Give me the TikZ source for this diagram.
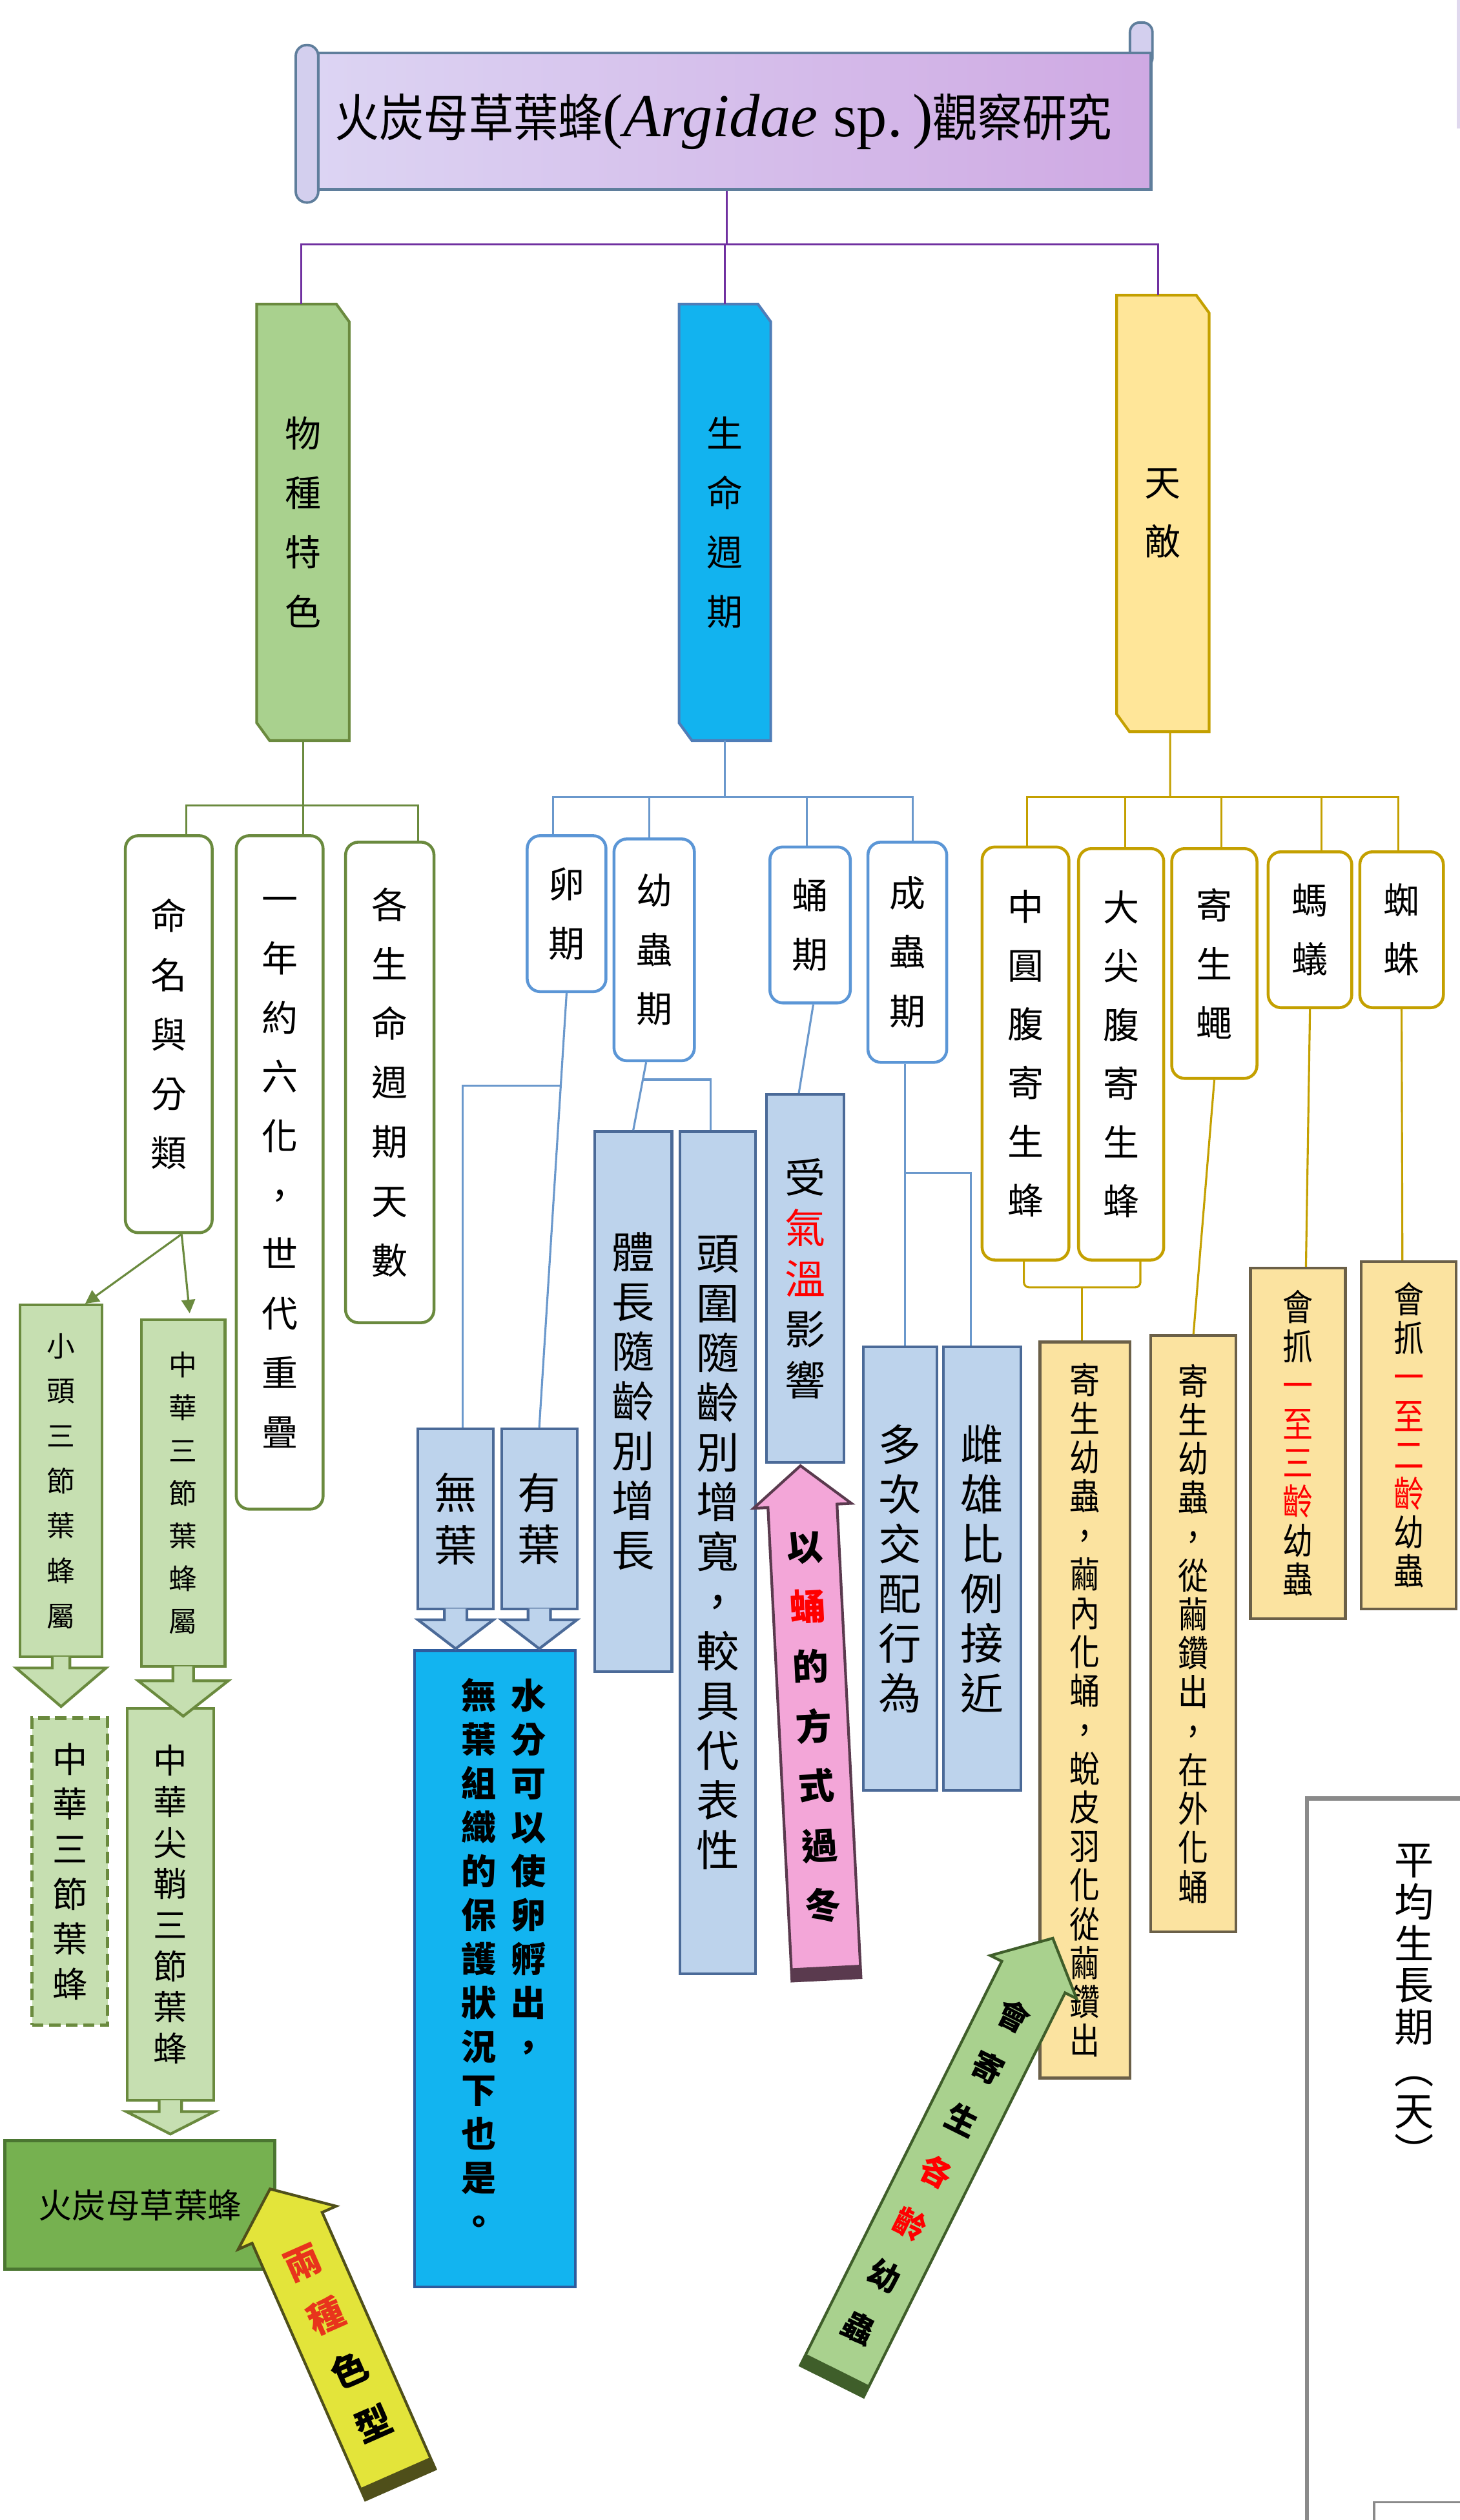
\documentclass[tikz,border=0pt]{standalone}
\usepackage{fontspec}
\setmainfont{Noto Sans CJK TC}
\newfontfamily\cjkc{Noto Sans CJK TC}[FakeStretch=0.84]
\newfontfamily\cjkt{Noto Sans CJK TC}[FakeStretch=0.88]
\newfontfamily\lat{Liberation Serif}
\usetikzlibrary{calc,backgrounds,arrows.meta}
\newcommand\fs[2]{\fontsize{#1pt}{#2pt}\selectfont}
\newcommand\rd[1]{\textcolor{red}{#1}}
\def\UL{0.025cm}
\definecolor{purp}{HTML}{7030A0}
\definecolor{gfill}{HTML}{A9D18E}
\definecolor{gdark}{HTML}{6A8A3E}
\definecolor{bfill}{HTML}{12B3EF}
\definecolor{bdark}{HTML}{4F7DB8}
\definecolor{yfill}{HTML}{FFE699}
\definecolor{ydark}{HTML}{C4A000}
\definecolor{blc}{HTML}{6A98CC}
\definecolor{bl2d}{HTML}{5B96D6}
\definecolor{l3b}{HTML}{BDD3EC}
\definecolor{l3bd}{HTML}{4B6A98}
\definecolor{l3y}{HTML}{FBE3A0}
\definecolor{l3yd}{HTML}{6B6048}
\definecolor{garf}{HTML}{C6DFB1}
\definecolor{hmf}{HTML}{76B150}
\definecolor{hmd}{HTML}{4B7631}
\definecolor{bigb}{HTML}{12B4F0}
\definecolor{bigbd}{HTML}{2E5C9E}
\definecolor{pinkf}{HTML}{F3A6D8}
\definecolor{pinkd}{HTML}{5A3A4E}
\definecolor{yarf}{HTML}{E3E43A}
\definecolor{yard}{HTML}{4F4F1A}
\definecolor{gtd}{HTML}{3F5E2A}
\definecolor{oranger}{HTML}{E8341C}
\definecolor{titL}{HTML}{DCD4F3}
\definecolor{titR}{HTML}{CFA9E3}
\definecolor{scrollb}{HTML}{5F7E9C}
\definecolor{rollf}{HTML}{D3CFEE}
\definecolor{graybox}{HTML}{8A8A8A}
\definecolor{lav}{HTML}{E0D8EE}
\tikzset{
  base/.style={inner sep=0pt, align=center},
  sz/.style 2 args={minimum width={#1*\UL}, minimum height={#2*\UL}},
  pline/.style={draw=purp, line width=0.9pt},
  gline/.style={draw=gdark, line width=0.9pt},
  bline/.style={draw=blc, line width=0.9pt},
  yline/.style={draw=ydark, line width=0.9pt},
  gl2/.style={base, draw=gdark, line width=1.3pt, fill=white, rounded corners=0.2cm, font=\fs{16}{26.2}},
  bl2/.style={base, draw=bl2d, line width=1.3pt, fill=white, rounded corners=0.2cm, font=\fs{16}{26.2}},
  yl2/.style={base, draw=ydark, line width=1.3pt, fill=white, rounded corners=0.2cm, font=\fs{16}{26}},
  bl3/.style={base, draw=l3bd, line width=1.2pt, fill=l3b, font=\fs{19}{22}},
  yl3/.style={base, draw=l3yd, line width=1.2pt, fill=l3y, font=\cjkc\fs{16}{17.2}},
  gar/.style={base, draw=gdark, line width=1.2pt, fill=garf},
  garhead/.style={fill=garf, draw=gdark, line width=1.2pt},
  blhead/.style={fill=l3b, draw=l3bd, line width=1.2pt},
}
\newcommand\chambox[8]{%
  \node[base, minimum width={#4*\UL}, minimum height={#5*\UL}, font=#7] (#1) at (#2,#3) {#8};
  \begin{pgfonlayer}{background}
  \filldraw[#6] (#1.north west) -- ($(#1.north east)+(-8,0)$) -- ($(#1.north east)+(0,11)$) -- (#1.south east) -- ($(#1.south west)+(8,0)$) -- ($(#1.south west)+(0,-11)$) -- cycle;
  \end{pgfonlayer}}
\newcommand\darrow[6]{%
  \filldraw[#6] ($(#1.south)+(-#2,-1)$) -- ($(#1.south)+(-#2,#4)$) -- ($(#1.south)+(-#3,#4)$) -- ($(#1.south)+(0,#5)$) -- ($(#1.south)+(#3,#4)$) -- ($(#1.south)+(#2,#4)$) -- ($(#1.south)+(#2,-1)$);}
\begin{document}
\begin{tikzpicture}[x=0.025cm, y=-0.025cm]
\useasboundingbox (0,0) rectangle (908,1568);
\begin{pgfonlayer}{background}
\fill[white] (0,0) rectangle (908,1568);
\end{pgfonlayer}

% ---------- title scroll ----------
\filldraw[draw=scrollb, line width=1.1pt, fill=rollf, rounded corners=0.15cm] (703,14) rectangle (717,42);
\node[base, sz={518}{85}, draw=scrollb, line width=1.3pt, left color=titL, right color=titR] (title) at (457,75.5)
  {{\cjkt\fs{22.5}{26}火炭母草葉蜂}{\lat\fs{27}{30}(\textit{Argidae} sp.\,)}{\cjkt\fs{22.5}{26}觀察研究}\hspace*{0.35cm}};
\filldraw[draw=scrollb, line width=1.1pt, fill=rollf, rounded corners=0.17cm] (184,28) rectangle (198,126);

% ---------- level 1 ----------
\chambox{gL1}{188.5}{325}{57}{271}{fill=gfill, draw=gdark, line width=1.2pt}{\fs{16}{26.3}}{物\\種\\特\\色}
\chambox{bL1}{451}{325}{56.5}{271}{fill=bfill, draw=bdark, line width=1.2pt}{\fs{16}{26.3}}{生\\命\\週\\期}
\chambox{yL1}{723.5}{319.5}{57}{271}{fill=yfill, draw=ydark, line width=1.2pt}{\fs{16}{26}}{天\\敵}

\coordinate (pbus) at (452,152);
\draw[pline] ($(title.south)+(-5,0)$) -- (pbus);
\draw[pline] (pbus) -| ($(gL1.north)+(-1,0)$);
\draw[pline] (pbus) -| (bL1.north);
\draw[pline] (pbus) -| ($(yL1.north)+(-3,0)$);

% ---------- level 2 ----------
\node[gl2, sz={54}{247}] (nameCls) at (105,643.5) {命\\名\\與\\分\\類};
\node[gl2, sz={54}{419}] (gen) at (174,729.5) {一\\年\\約\\六\\化\\，\\世\\代\\重\\疊};
\node[gl2, sz={55}{299}] (days) at (242.5,673.5) {各\\生\\命\\週\\期\\天\\數};
\node[bl2, sz={49}{97}] (egg) at (352.5,568.5) {卵\\期};
\node[bl2, sz={50}{138}] (larva) at (407,591) {幼\\蟲\\期};
\node[bl2, sz={50}{97}] (pupa) at (504,575.5) {蛹\\期};
\node[bl2, sz={49}{137}] (adult) at (564.5,592.5) {成\\蟲\\期};
\node[yl2, sz={54}{257}] (wasp1) at (638,655.5) {中\\圓\\腹\\寄\\生\\蜂};
\node[yl2, sz={53}{256}] (wasp2) at (697.5,656) {大\\尖\\腹\\寄\\生\\蜂};
\node[yl2, sz={53}{143}] (fly) at (755.5,599.5) {寄\\生\\蠅};
\node[yl2, sz={52}{97}] (ant) at (815,578.5) {螞\\蟻};
\node[yl2, sz={52}{97}] (spider) at (872,578.5) {蜘\\蛛};

\coordinate (gbus) at (188.5,501);
\draw[gline] (gL1.south) -- (gbus);
\draw[gline] (gbus) -| ($(nameCls.north)+(11,0)$);
\draw[gline] (gbus) -- ($(gen.north)+(14.5,0)$);
\draw[gline] (gbus) -| ($(days.north)+(17.5,0)$);

\coordinate (bbus) at (451,496);
\draw[bline] (bL1.south) -- (bbus);
\draw[bline] (bbus) -| ($(egg.north)+(-8.5,0)$);
\draw[bline] (bbus) -| ($(larva.north)+(-3,0)$);
\draw[bline] (bbus) -| ($(pupa.north)+(-2,0)$);
\draw[bline] (bbus) -| ($(adult.north)+(3.5,0)$);

\coordinate (ybus) at (728,496);
\draw[yline] ($(yL1.south)+(4.5,0)$) -- (ybus);
\draw[yline] (ybus) -| ($(wasp1.north)+(1,0)$);
\draw[yline] (ybus) -| ($(wasp2.north)+(2.5,0)$);
\draw[yline] (ybus) -| ($(fly.north)+(4.5,0)$);
\draw[yline] (ybus) -| ($(ant.north)+(7,0)$);
\draw[yline] (ybus) -| ($(spider.north)+(-2,0)$);

% ---------- green branch level 3 ----------
\node[base, sz={168}{80}, fill=hmf, draw=hmd, line width=1.3pt, font=\fs{15}{18}] (hm) at (87,1372) {火炭母草葉蜂};
\node[gar, sz={54}{244}, font=\fs{15}{18.2}] (zjs) at (106,1185) {中\\華\\尖\\鞘\\三\\節\\葉\\蜂};
\darrow{zjs}{7}{27.5}{6}{20}{garhead}
\node[gar, sz={47}{191}, dashed, dash pattern=on 5pt off 2.5pt, line width=1.5pt, font=\fs{15.5}{19.9}] (zhd) at (43.5,1164.5) {中\\華\\三\\節\\葉\\蜂};
\node[gar, sz={51}{219}, font=\fs{12.5}{19.9}] (xt) at (38,921.5) {小\\頭\\三\\節\\葉\\蜂\\屬};
\darrow{xt}{5.5}{28}{6}{30}{garhead}
\node[gar, sz={52}{216}, font=\fs{12.5}{18.9}] (zh) at (114,929) {中\\華\\三\\節\\葉\\蜂\\屬};
\darrow{zh}{6.4}{28}{8}{30}{garhead}
\draw[gline, -{Triangle[length=6pt,width=6pt]}] ($(nameCls.south)+(8,0)$) -- ($(xt.north)+(15,0)$);
\draw[gline, -{Triangle[length=6pt,width=6pt]}] ($(nameCls.south)+(8,0)$) -- ($(zh.north)+(4,-3)$);

% yellow tilted arrow
\begin{scope}[shift={(168,1362)}, rotate=23.8]
\filldraw[fill=yarf, draw=yard, line width=1.2pt] (0,0) -- (33.3,26.4) -- (23.8,26.4) -- (23.8,201) -- (-23.8,201) -- (-23.8,26.4) -- (-33.3,26.4) -- cycle;
\fill[yard] (-23.8,193) rectangle (23.8,201);
\node[base, transform shape, font=\bfseries\fs{16}{26.1}] (colors) at (0,105) {\textcolor{oranger}{兩}\\\textcolor{oranger}{種}\\色\\型};
\end{scope}

% ---------- blue branch level 3 ----------
\node[base, sz={100}{396}, fill=bigb, draw=bigbd, line width=1.3pt] (water) at (308,1225) {};
\node[base, font=\bfseries\fs{15.5}{19.4}] (waterText) at (313.5,1217.5)
  {\parbox[t]{0.6cm}{\centering 無\\葉\\組\\織\\的\\保\\護\\狀\\況\\下\\也\\是\\。}\hspace{0.175cm}\parbox[t]{0.6cm}{\centering 水\\分\\可\\以\\使\\卵\\孵\\出\\，}};
\node[bl3, sz={47}{112}, font=\fs{19}{23}] (noLeaf) at (283.5,945) {無\\葉};
\node[bl3, sz={47}{112}, font=\fs{19}{23}] (yesLeaf) at (335.5,945) {有\\葉};
\darrow{noLeaf}{7}{23.5}{6}{24}{blhead}
\darrow{yesLeaf}{7}{23.5}{6}{24}{blhead}
\node[bl3, sz={48}{336}] (bodyLen) at (394,872) {體\\長\\隨\\齡\\別\\增\\長};
\node[bl3, sz={47}{524}] (headW) at (446.5,966) {頭\\圍\\隨\\齡\\別\\增\\寬\\，\\較\\具\\代\\表\\性};
\node[bl3, sz={48}{229}, font=\fs{18}{22.4}] (temp) at (501,795.5) {受\\\rd{氣}\\\rd{溫}\\影\\響};
\node[bl3, sz={46}{276}] (mate) at (560,976) {多\\次\\交\\配\\行\\為};
\node[bl3, sz={48}{276}] (ratio) at (611,976) {雌\\雄\\比\\例\\接\\近};

\draw[bline] (egg.south) -- (yesLeaf.north);
\coordinate (eggsplit) at ($(egg.south)!0.213!(yesLeaf.north)$);
\draw[bline] (eggsplit) -| ($(noLeaf.north)+(4.5,0)$);
\coordinate (lstart) at ($(larva.south)+(-5,0)$);
\draw[bline] (lstart) -- (bodyLen.north);
\coordinate (lsplit) at ($(lstart)!0.256!(bodyLen.north)$);
\draw[bline] (lsplit) -| ($(headW.north)+(-4.5,0)$);
\draw[bline] ($(pupa.south)+(2,0)$) -- ($(temp.north)+(-4,0)$);
\coordinate (astart) at ($(adult.south)+(-1.5,0)$);
\draw[bline] (astart) -- (astart |- mate.north);
\coordinate (asplit) at ($(astart)+(0,68)$);
\draw[bline] (asplit) -| ($(ratio.north)+(-7,0)$);

% pink arrow
\begin{scope}[shift={(498,912)}, rotate=2.9]
\filldraw[fill=pinkf, draw=pinkd, line width=1.2pt] (0,0) -- (30.5,25) -- (21.5,25) -- (21.5,320) -- (-21.5,320) -- (-21.5,25) -- (-30.5,25) -- cycle;
\fill[pinkd] (-21.5,312) rectangle (21.5,320);
\node[base, transform shape, font=\bfseries\fs{16}{26.5}] (winter) at (0,163) {以\\\rd{蛹}\\的\\方\\式\\過\\冬};
\end{scope}

% ---------- yellow branch level 3 ----------
\node[yl3, sz={56}{458}] (par1) at (675,1064) {寄\\生\\幼\\蟲\\，\\繭\\內\\化\\蛹\\，\\蛻\\皮\\羽\\化\\從\\繭\\鑽\\出};
\node[yl3, sz={53}{371}] (par2) at (742.5,1016.5) {寄\\生\\幼\\蟲\\，\\從\\繭\\鑽\\出\\，\\在\\外\\化\\蛹};
\node[yl3, sz={59}{218}] (antbox) at (807.5,898) {會\\抓\\\rd{一}\\\rd{至}\\\rd{三}\\\rd{齡}\\幼\\蟲};
\node[yl3, sz={59}{216}] (spiderbox) at (876.5,893) {會\\抓\\\rd{一}\\\rd{至}\\\rd{二}\\\rd{齡}\\幼\\蟲};

\coordinate (ymerge) at (673,801);
\draw[yline, rounded corners=0.08cm] ($(wasp1.south)+(-1,0)$) |- (ymerge) -| ($(wasp2.south)+(12,0)$);
\draw[yline] (ymerge) -- ($(par1.north)+(-2,0)$);
\draw[yline] (fly.south) -- (par2.north);
\draw[yline] (ant.south) -- ($(antbox.north)+(5,0)$);
\draw[yline] (spider.south) -- ($(spiderbox.north)+(-4,0)$);

% green tilted arrow
\begin{scope}[shift={(655,1206)}, rotate=-26.5]
\filldraw[fill=gfill, draw=gtd, line width=1.2pt] (0,0) -- (30,27) -- (22,27) -- (22,308) -- (-22,308) -- (-22,27) -- (-30,27) -- cycle;
\fill[gtd] (-22,300) rectangle (22,308);
\node[base, transform shape, font=\bfseries\fs{14}{25.7}] (allages) at (0,162.5) {會\\寄\\生\\\rd{各}\\\rd{齡}\\幼\\蟲};
\end{scope}

% ---------- bottom-right partial box ----------
\draw[draw=graybox, line width=1.8pt] (813,1575) -- (813,1119) -- (915,1119);
\node[base, font=\fs{17.5}{18.5}] (avg) at (880,1248) {平\\均\\生\\長\\期\\︵\\天\\︶};
\draw[draw=graybox, line width=1pt] (855,1575) -- (855,1557) -- (915,1557);
\draw[draw=lav, line width=1.5pt] (907.2,0) -- (907.2,80);
\end{tikzpicture}
\end{document}
